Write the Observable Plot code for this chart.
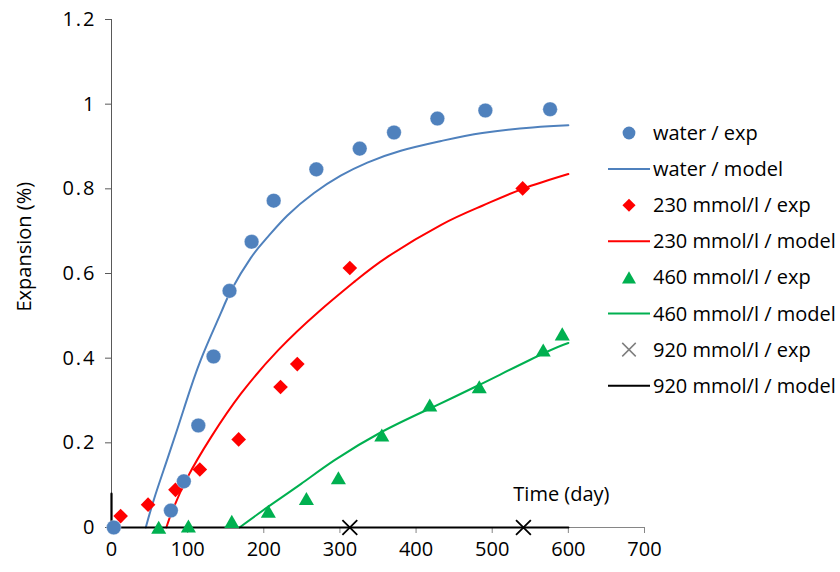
<!DOCTYPE html>
<html>
<head>
<meta charset="utf-8">
<script src="https://cdn.jsdelivr.net/npm/d3@7"></script>
<script src="https://cdn.jsdelivr.net/npm/@observablehq/plot@0.6"></script>
<style>
  body { margin: 0; background: #fff; }
  #wrap { position: relative; width: 840px; height: 572px; font-family: "Open Sans", sans-serif; }
  #wrap svg.legend { position: absolute; left: 0; top: 0; pointer-events: none; }
  #wrap g[aria-label="y-axis tick label"] text { letter-spacing: 2px; }
</style>
</head>
<body>
<div id="wrap"></div>
<script>
// ---------- data ----------
const xTicks = [0, 100, 200, 300, 400, 500, 600, 700];
const yTicks = [0, 0.2, 0.4, 0.6, 0.8, 1, 1.2];
const yTickLabels = ["0", "0.2", "0.4", "0.6", "0.8", "1", "1.2"];

const waterExpT = [3, 78, 95, 114, 134, 155, 184, 213, 269, 326, 371, 428, 491, 576];
const waterExpV = [0, 0.040, 0.109, 0.241, 0.404, 0.559, 0.675, 0.772, 0.846, 0.895, 0.933, 0.966, 0.985, 0.988];

const waterModelT = [45, 56, 74, 95, 117, 144, 157, 183, 205, 231, 266, 301, 336, 380, 433, 487, 553, 600];
const waterModelV = [0, 0.068, 0.165, 0.28, 0.395, 0.508, 0.56, 0.637, 0.686, 0.737, 0.79, 0.831, 0.862, 0.89, 0.913, 0.932, 0.945, 0.95];

const c230ExpT = [12, 48, 84, 116, 167, 222, 244, 313, 540];
const c230ExpV = [0.027, 0.054, 0.089, 0.137, 0.208, 0.332, 0.386, 0.613, 0.801];

const c230ModelT = [72, 80, 100, 131, 170, 219, 271, 320, 363, 433, 487, 540, 600];
const c230ModelV = [0, 0.04, 0.119, 0.214, 0.316, 0.419, 0.508, 0.582, 0.64, 0.715, 0.76, 0.80, 0.835];

const c460ExpT = [62, 101, 158, 206, 256, 298, 355, 418, 483, 567, 592];
const c460ExpV = [0, 0.003, 0.014, 0.038, 0.068, 0.117, 0.218, 0.289, 0.332, 0.419, 0.457];

const c460ModelT = [168, 205, 249, 293, 354, 418, 482, 567, 600];
const c460ModelV = [0, 0.048, 0.103, 0.159, 0.225, 0.281, 0.336, 0.411, 0.436];

const c920ExpT = [313, 541];
const c920ExpV = [0, 0];

const c920ModelT = [0, 0, 600];
const c920ModelV = [0.08, 0, 0];

const legendLabels = [
  "water / exp", "water / model",
  "230 mmol/l / exp", "230 mmol/l / model",
  "460 mmol/l / exp", "460 mmol/l / model",
  "920 mmol/l / exp", "920 mmol/l / model"
];

const colWater = "#4F81BD", col230 = "#FF0000", col460 = "#00B050", col920 = "#000000";

const rows = (t, v) => t.map((d, i) => ({ t: d, v: v[i] }));

const FONT = "'Open Sans', sans-serif";

const plot = Plot.plot({
  width: 840,
  height: 572,
  marginLeft: 111,
  marginRight: 196,
  marginTop: 19,
  marginBottom: 45,
  style: { fontFamily: FONT, fontSize: "20px", color: "#000", background: "#fff" },
  x: { domain: [0, 700] },
  y: { domain: [0, 1.2] },
  marks: [
    Plot.ruleY([0], { stroke: "#868686", strokeWidth: 1 }),
    Plot.axisX({ ticks: xTicks, tickSize: 6, tickPadding: 8, stroke: "#868686", fill: "#000", label: null, tickFormat: d => String(d) }),
    Plot.axisY({ ticks: yTicks, tickSize: 6, tickPadding: 9, stroke: "#595959", fill: "#000", label: null, tickFormat: (d, i) => yTickLabels[i] }),
    Plot.ruleX([0], { stroke: "#595959", strokeWidth: 1 }),

    Plot.line(rows(waterModelT, waterModelV), { x: "t", y: "v", stroke: colWater, strokeWidth: 2, curve: "natural" }),
    Plot.line(rows(c230ModelT, c230ModelV), { x: "t", y: "v", stroke: col230, strokeWidth: 2, curve: "natural" }),
    Plot.line(rows(c460ModelT, c460ModelV), { x: "t", y: "v", stroke: col460, strokeWidth: 2, curve: "natural" }),
    Plot.line(rows(c920ModelT, c920ModelV), { x: "t", y: "v", stroke: col920, strokeWidth: 2.2 }),

    Plot.dot(rows(c230ExpT, c230ExpV), { x: "t", y: "v", symbol: "diamond2", r: 6.6, fill: col230, stroke: "none" }),
    Plot.dot(rows(c460ExpT, c460ExpV), { x: "t", y: "v", symbol: "triangle", r: 5.6, fill: col460, stroke: "none", dy: 2 }),
    Plot.dot(rows(c920ExpT, c920ExpV), { x: "t", y: "v", symbol: "times", r: 6.8, stroke: col920, strokeWidth: 1.8 }),
    Plot.dot(rows(waterExpT, waterExpV), { x: "t", y: "v", symbol: "circle", r: 7.3, fill: colWater, stroke: "#fff", strokeOpacity: 0.5, strokeWidth: 0.6 }),

    Plot.text(["Time (day)"], { frameAnchor: "bottom-right", textAnchor: "end", lineAnchor: "middle", dx: -35, dy: -33, fontSize: 20 }),
    Plot.text(["Expansion (%)"], { frameAnchor: "left", rotate: -90, dx: -87, dy: 38, fontSize: 20 })
  ]
});

const wrap = document.getElementById("wrap");
wrap.appendChild(plot);

// ---------- legend (right side) ----------
const legendTypes = ["circle", "line", "diamond", "line", "triangle", "line", "times", "line"];
const legendColors = [colWater, colWater, col230, col230, col460, col460, "#7F7F7F", col920];

const lg = d3.select(wrap).append("svg")
  .attr("class", "legend")
  .attr("width", 840).attr("height", 572);

const rowY0 = 133, rowStep = 36.1, symX = 629, lineX0 = 608, lineX1 = 650, textX = 653;

legendLabels.forEach((label, i) => {
  const y = rowY0 + i * rowStep;
  const type = legendTypes[i], color = legendColors[i];
  if (type === "line") {
    lg.append("line").attr("x1", lineX0).attr("x2", lineX1).attr("y1", y).attr("y2", y)
      .attr("stroke", color).attr("stroke-width", 2);
  } else {
    let sym, size, fill = color, stroke = "none", sw = 0, dy = 0;
    if (type === "circle") { sym = d3.symbolCircle; size = Math.PI * 6.4 * 6.4; }
    if (type === "diamond") { sym = d3.symbolDiamond2; size = Math.PI * 5.9 * 5.9; }
    if (type === "triangle") { sym = d3.symbolTriangle; size = Math.PI * 5.2 * 5.2; dy = 2; }
    if (type === "times") { sym = d3.symbolTimes; size = Math.PI * 6.2 * 6.2; fill = "none"; stroke = color; sw = 1.5; }
    lg.append("path").attr("d", d3.symbol(sym, size)())
      .attr("transform", `translate(${symX},${y + dy})`)
      .attr("fill", fill).attr("stroke", stroke).attr("stroke-width", sw);
  }
  lg.append("text").attr("x", textX).attr("y", y).attr("dy", "0.35em")
    .attr("font-family", FONT).attr("font-size", 20).attr("fill", "#000")
    .text(label);
});
</script>
</body>
</html>
